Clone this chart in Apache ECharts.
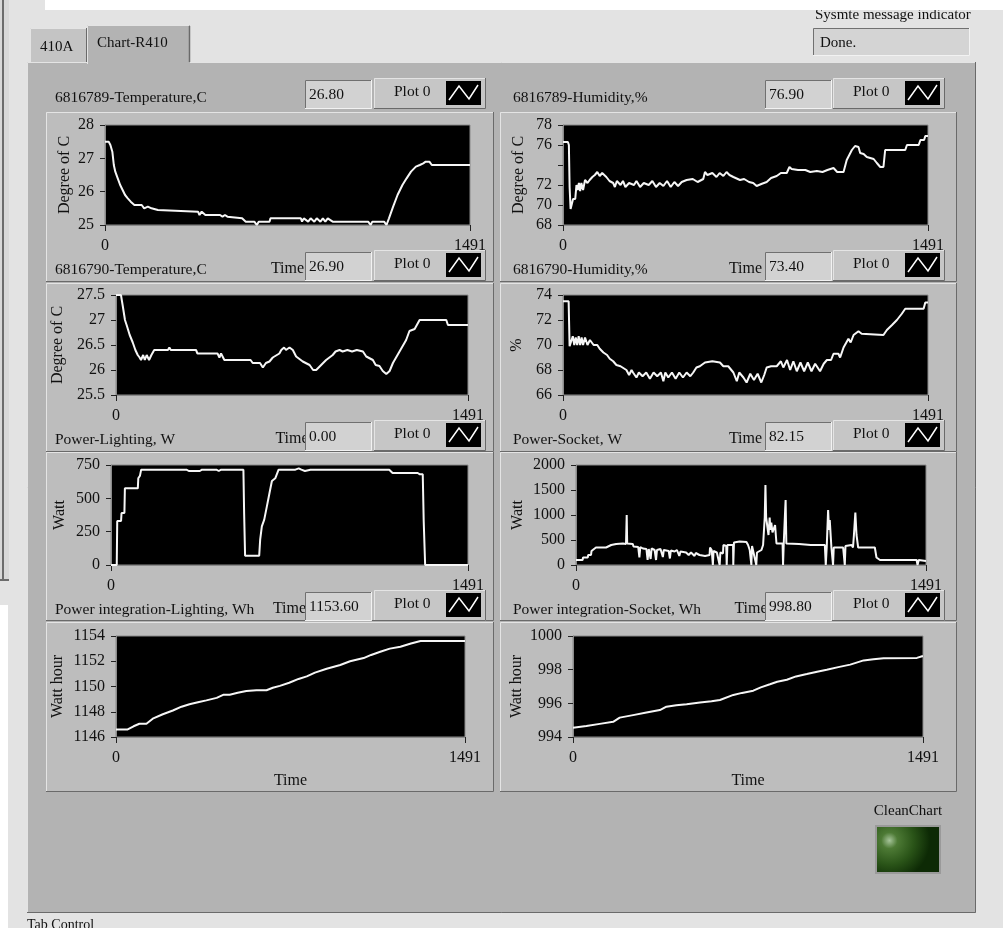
<!DOCTYPE html>
<html><head><meta charset="utf-8">
<script src="https://cdn.jsdelivr.net/npm/echarts@6/dist/echarts.min.js"></script>
<style>html,body{margin:0;padding:0;background:#e3e3e3;overflow:hidden}#c{width:1003px;height:928px}</style>
</head><body><div id="c"></div>
<script>
// ---------------- data ----------------
const xTicks = [0, 1491];
const temp1 = [[0,27.5],[15,27.5],[22,27.4],[30,27.2],[36,26.8],[42,26.6],[52,26.4],[62,26.2],[72,26.05],[82,25.9],[93,25.8],[105,25.7],[120,25.6],[150,25.6],[160,25.5],[175,25.55],[190,25.5],[216,25.45],[220,25.4],[380,25.4],[386,25.3],[395,25.4],[410,25.3],[470,25.3],[480,25.25],[490,25.3],[500,25.25],[560,25.2],[575,25.1],[610,25.1],[620,25.0],[628,25.1],[672,25.1],[676,25.2],[800,25.2],[805,25.1],[812,25.2],[830,25.1],[840,25.2],[855,25.1],[865,25.2],[880,25.1],[890,25.2],[900,25.1],[910,25.2],[930,25.1],[1075,25.1],[1085,25.0],[1092,25.1],[1140,25.1],[1150,25.0],[1160,25.2],[1177,25.55],[1195,25.9],[1215,26.2],[1232,26.4],[1250,26.6],[1270,26.75],[1286,26.8],[1300,26.85],[1310,26.9],[1325,26.9],[1335,26.8],[1491,26.8]];
const temp2 = [[0,27.5],[21,27.5],[28,27.3],[38,27.0],[45,26.9],[58,26.7],[71,26.55],[82,26.4],[92,26.3],[100,26.25],[106,26.2],[115,26.3],[122,26.2],[130,26.3],[140,26.2],[150,26.3],[155,26.3],[162,26.4],[220,26.4],[226,26.45],[232,26.4],[339,26.4],[345,26.33],[430,26.33],[438,26.25],[445,26.33],[459,26.2],[570,26.2],[579,26.14],[610,26.14],[622,26.05],[635,26.14],[650,26.17],[664,26.25],[692,26.33],[700,26.4],[712,26.45],[720,26.4],[735,26.45],[749,26.4],[763,26.27],[791,26.17],[820,26.1],[835,26.0],[848,26.0],[869,26.1],[890,26.2],[918,26.3],[930,26.37],[947,26.4],[960,26.37],[980,26.4],[1000,26.37],[1020,26.4],[1046,26.37],[1060,26.27],[1088,26.2],[1100,26.1],[1116,26.08],[1130,25.98],[1145,25.92],[1159,25.98],[1173,26.14],[1201,26.37],[1229,26.6],[1243,26.78],[1265,26.82],[1286,27.0],[1399,27.0],[1406,26.9],[1491,26.9]];
const lightW = [[0,0],[24,0],[26,330],[42,330],[44,390],[56,390],[58,575],[112,575],[114,650],[119,650],[121,670],[126,715],[315,715],[325,705],[371,705],[380,715],[440,715],[450,705],[460,715],[553,715],[556,390],[560,70],[619,70],[623,190],[630,290],[640,340],[651,440],[662,540],[672,630],[686,650],[700,715],[770,715],[784,725],[795,715],[810,705],[833,715],[1162,715],[1176,690],[1281,690],[1290,680],[1302,680],[1306,330],[1312,0],[1491,0]];
const lightWh = [[0,1146.6],[50,1146.6],[75,1146.85],[100,1147.05],[130,1147.05],[157,1147.45],[200,1147.8],[243,1148.1],[280,1148.4],[314,1148.6],[350,1148.75],[386,1148.9],[430,1149.1],[460,1149.35],[486,1149.35],[520,1149.5],[557,1149.65],[600,1149.7],[643,1149.7],[670,1149.9],[700,1150.05],[740,1150.3],[780,1150.6],[815,1150.8],[850,1151.1],[900,1151.4],[958,1151.7],[1000,1152.0],[1058,1152.25],[1090,1152.5],[1129,1152.75],[1170,1153.0],[1215,1153.15],[1260,1153.4],[1301,1153.6],[1491,1153.6]];
const hum1 = [[0,76.3],[20,76.3],[24,76.0],[27,71.8],[31,69.6],[38,69.8],[41,70.6],[50,70.6],[55,72.0],[60,71.5],[65,72.2],[70,71.4],[75,72.2],[82,71.5],[90,72.5],[100,72.2],[109,72.5],[120,72.8],[130,73.0],[140,73.3],[150,72.9],[160,73.2],[177,72.8],[190,72.4],[205,72.2],[212,71.8],[220,72.4],[235,72.0],[245,72.4],[255,71.8],[270,72.2],[290,72.0],[300,72.4],[315,71.8],[330,72.2],[350,72.0],[365,72.4],[380,71.8],[395,72.2],[410,71.9],[425,72.4],[440,71.8],[455,72.3],[470,71.9],[485,72.3],[505,72.5],[530,72.6],[550,72.3],[573,72.6],[580,73.3],[590,73.0],[610,73.2],[627,72.8],[640,73.2],[655,72.9],[668,73.3],[680,73.0],[696,72.8],[723,72.5],[740,72.6],[760,72.3],[777,72.2],[791,71.9],[810,72.1],[832,72.3],[850,72.7],[873,72.9],[890,73.2],[914,73.2],[925,73.8],[934,73.6],[960,73.5],[990,73.5],[1010,73.3],[1037,73.4],[1060,73.3],[1080,73.5],[1105,73.7],[1120,73.3],[1146,73.3],[1159,74.5],[1180,75.5],[1193,75.9],[1207,75.8],[1214,75.2],[1228,75.1],[1241,74.8],[1269,74.6],[1282,74.2],[1296,73.8],[1309,73.8],[1316,75.5],[1398,75.5],[1405,76.0],[1453,76.0],[1460,76.5],[1475,76.5],[1480,76.9],[1491,76.9]];
const hum2 = [[0,73.5],[23,73.5],[27,69.9],[34,70.0],[40,70.7],[46,70.0],[52,70.6],[58,70.0],[64,70.7],[70,70.0],[76,70.6],[82,70.0],[90,70.6],[100,70.0],[110,70.4],[125,70.0],[140,70.0],[150,69.7],[165,69.4],[180,69.2],[191,68.9],[205,68.7],[218,68.4],[235,68.3],[259,68.0],[270,67.6],[280,68.0],[286,67.8],[300,67.4],[310,67.8],[325,67.5],[340,67.8],[355,67.3],[370,67.8],[385,67.5],[400,67.8],[410,67.1],[418,67.8],[430,67.4],[445,67.8],[460,67.3],[475,67.8],[490,67.4],[505,67.8],[520,67.5],[532,67.8],[545,68.2],[559,68.3],[580,68.6],[610,68.7],[641,68.6],[655,68.3],[675,68.3],[696,67.8],[710,67.1],[720,67.8],[737,67.4],[750,67.0],[765,67.7],[780,67.2],[795,67.7],[810,67.0],[822,67.6],[832,68.2],[850,68.3],[873,68.3],[890,68.7],[900,68.2],[915,68.8],[928,68.0],[941,68.7],[955,67.9],[970,68.6],[985,67.9],[1000,68.6],[1015,67.9],[1030,68.5],[1050,67.9],[1065,68.5],[1078,68.8],[1095,68.8],[1105,69.3],[1125,69.3],[1132,69.0],[1146,69.8],[1166,70.5],[1175,70.2],[1187,70.8],[1207,71.1],[1220,70.9],[1228,70.8],[1309,70.8],[1323,71.2],[1344,71.6],[1364,72.0],[1384,72.5],[1398,72.9],[1473,72.9],[1480,73.4],[1491,73.4]];
const sockW = [[0,100],[28,100],[30,150],[50,150],[52,200],[64,200],[66,280],[71,300],[85,350],[128,350],[130,380],[150,400],[171,420],[200,430],[213,420],[216,1000],[218,430],[242,420],[245,370],[265,360],[270,150],[274,360],[285,330],[300,320],[305,100],[310,320],[318,120],[322,330],[335,300],[341,100],[345,300],[360,320],[370,160],[374,300],[395,280],[400,130],[404,290],[420,270],[430,300],[440,180],[445,270],[469,250],[480,200],[490,250],[505,180],[510,240],[526,200],[550,180],[569,200],[571,350],[578,300],[583,0],[586,280],[600,250],[612,0],[615,250],[626,230],[628,400],[640,380],[642,0],[645,400],[669,400],[670,0],[673,450],[697,470],[726,460],[733,400],[740,300],[747,0],[750,380],[768,0],[771,250],[790,300],[797,400],[804,950],[807,1600],[810,950],[820,600],[825,950],[828,700],[832,850],[837,650],[848,800],[854,430],[880,430],[882,0],[885,430],[891,1100],[893,1300],[896,430],[950,420],[1000,400],[1024,400],[1060,400],[1064,0],[1068,350],[1074,1100],[1078,700],[1081,900],[1088,350],[1095,0],[1098,350],[1138,350],[1145,0],[1148,380],[1174,400],[1180,350],[1184,600],[1190,1050],[1195,600],[1202,350],[1273,350],[1280,150],[1295,100],[1451,100],[1455,0],[1460,100],[1491,82]];
const sockWh = [[0,994.55],[57,994.65],[114,994.78],[171,994.9],[199,995.15],[256,995.3],[313,995.45],[370,995.6],[398,995.8],[440,995.88],[484,995.95],[541,996.05],[590,996.12],[626,996.2],[683,996.5],[720,996.62],[768,996.75],[800,996.95],[839,997.13],[870,997.28],[911,997.4],[950,997.6],[996,997.74],[1040,997.88],[1081,998.0],[1130,998.15],[1181,998.3],[1238,998.55],[1280,998.62],[1323,998.68],[1465,998.7],[1487,998.8],[1491,998.8]];
const titles = ['6816789-Temperature,C','6816790-Temperature,C','Power-Lighting, W','Power integration-Lighting, Wh','6816789-Humidity,%','6816790-Humidity,%','Power-Socket, W','Power integration-Socket, Wh'];
const readouts = ['26.80','26.90','0.00','1153.60','76.90','73.40','82.15','998.80'];
const yNames = ['Degree of C','Degree of C','Watt','Watt hour','Degree of C','%','Watt','Watt hour'];
const yRanges = [[25,28,1],[25.5,27.5,0.5],[0,750,250],[1146,1154,2],[68,78,2],[66,74,2],[0,2000,500],[994,1000,2]];
const hiddenTicks = [[],[],[],[],[74],[],[],[]];
const seriesData = [temp1,temp2,lightW,lightWh,hum1,hum2,sockW,sockWh];
const xName = 'Time';
const plotName = 'Plot 0';

// ---------------- layout ----------------
const FONT = '"Liberation Serif", "Times New Roman", serif';
const font = (s) => s + 'px ' + FONT;
const grids = [[105,125,365,100],[116,295,352,100],[111,465,357,100],[116,636,349,101],
               [563,125,365,100],[563,295,365,100],[576,465,350,100],[573,636,350,101]];
const nameGaps = [32,50,43,50,36,38,50,48];
const headerY = [78,250,420,590];
const frameY = [[112,170],[283,169],[452,169],[622,170]];

const chart = echarts.init(document.getElementById('c'), null, {renderer:'canvas', width:1003, height:928});

function bevel(x,y,w,h,fill,raised,z){
  const lt = raised ? '#e4e4e4' : '#707070';
  const rb = raised ? '#6a6a6a' : '#f2f2f2';
  return [
    {type:'rect', shape:{x:x,y:y,width:w,height:h}, style:{fill:fill}, z:z, silent:true},
    {type:'polyline', shape:{points:[[x+0.5,y+h],[x+0.5,y+0.5],[x+w,y+0.5]]}, style:{stroke:lt,lineWidth:1,fill:null}, z:z, silent:true},
    {type:'polyline', shape:{points:[[x+w-0.5,y],[x+w-0.5,y+h-0.5],[x,y+h-0.5]]}, style:{stroke:rb,lineWidth:1,fill:null}, z:z, silent:true}
  ];
}
function txt(t,x,y,size,z,align){
  return {type:'text', x:0, y:0, z:z, silent:true,
    style:{text:t, x:x, y:y, font:font(size), fill:'#111', textAlign:align||'left', verticalAlign:'middle', textVerticalAlign:'middle'}};
}

const g = [];
// left decoration & strips
g.push({type:'rect', shape:{x:0,y:0,width:9,height:580}, style:{fill:'#d8d8d8'}, z:-20, silent:true});
g.push({type:'line', shape:{x1:3,y1:0,x2:3,y2:580}, style:{stroke:'#6c6c6c',lineWidth:2}, z:-20, silent:true});
g.push({type:'line', shape:{x1:0,y1:580,x2:9,y2:580}, style:{stroke:'#6c6c6c',lineWidth:2}, z:-20, silent:true});
g.push({type:'rect', shape:{x:0,y:605,width:8,height:323}, style:{fill:'#ffffff'}, z:-20, silent:true});
// system message indicator
g.push(txt('Sysmte message indicator', 815, 15, 15, -20));
g.push({type:'rect', shape:{x:45,y:0,width:958,height:10}, style:{fill:'#ffffff'}, z:-19, silent:true});
g.push(...bevel(813,28,157,28,'#d4d4d4',false,-20));
g.push(txt('Done.', 820, 43, 15, -19));
// tab panel and tabs
g.push(...bevel(30,28,57,36,'#c4c4c4',true,-20));
g.push(txt('410A', 40, 47, 15, -19));
g.push(...bevel(27,62,949,851,'#b3b3b3',true,-18));
g.push({type:'rect', shape:{x:87,y:25,width:103,height:40}, style:{fill:'#b3b3b3'}, z:-17, silent:true});
g.push({type:'polyline', shape:{points:[[87.5,64],[87.5,25.5],[189,25.5]]}, style:{stroke:'#e4e4e4',lineWidth:1,fill:null}, z:-17, silent:true});
g.push({type:'polyline', shape:{points:[[189.5,26],[189.5,62]]}, style:{stroke:'#6a6a6a',lineWidth:1.5,fill:null}, z:-17, silent:true});
g.push(txt('Chart-R410', 97, 43, 15, -16));
g.push(txt('Tab Control', 27, 925, 14, -16));
// chart frames
[46,500].forEach(function(fx, col){
  frameY.forEach(function(fy){
    g.push(...bevel(fx, fy[0], col===0 ? 448 : 457, fy[1], '#bdbdbd', true, -15));
  });
});
// headers
for (let i = 0; i < 8; i++) {
  const col = i < 4 ? 0 : 1, row = i % 4;
  const hy = headerY[row];
  const lx = col === 0 ? 55 : 513;
  const vx = col === 0 ? 305 : 765;
  const px = col === 0 ? 374 : 833;
  g.push(txt(titles[i], lx, hy + 20, 15.5, 50));
  g.push(...bevel(vx, hy + 2, 67, 29, '#d2d2d2', false, 50));
  g.push(txt(readouts[i], vx + 4, hy + 17, 15.5, 51));
  g.push(...bevel(px, hy, 112, 31, '#c6c6c6', true, 50));
  g.push(txt(plotName, px + 20, hy + 14, 15.5, 51));
  const ix = px + 72, iy = hy + 3;
  g.push({type:'rect', shape:{x:ix,y:iy,width:35,height:24}, style:{fill:'#000'}, z:51, silent:true});
  g.push({type:'polyline', shape:{points:[[ix+3,iy+19],[ix+13,iy+5],[ix+23,iy+18],[ix+32,iy+4]]}, style:{stroke:'#fff',lineWidth:1.5,fill:null}, z:52, silent:true});
}
// CleanChart LED
g.push(txt('CleanChart', 908, 811, 15, 50, 'center'));
g.push({type:'rect', shape:{x:875,y:825,width:66,height:49}, style:{fill:'#9a9a9a'}, z:50, silent:true});
g.push({type:'rect', shape:{x:877,y:827,width:62,height:45},
  style:{fill:new echarts.graphic.RadialGradient(0.2,0.3,0.9,[{offset:0,color:'#a6c49a'},{offset:0.2,color:'#4d7a35'},{offset:0.6,color:'#2a5418'},{offset:1,color:'#0d2a05'}])}, z:51, silent:true});

const axisText = {fontFamily: FONT, fontSize: 16, color: '#111'};
const gridOpts = [], xAxes = [], yAxes = [], series = [];
for (let i = 0; i < 8; i++) {
  const r = grids[i], yr = yRanges[i], hid = hiddenTicks[i];
  gridOpts.push({left:r[0], top:r[1], width:r[2], height:r[3], show:true, backgroundColor:'#000', borderColor:'#8a8a8a', borderWidth:1, containLabel:false, outerBoundsMode:'none'});
  xAxes.push({type:'value', gridIndex:i, min:xTicks[0], max:xTicks[1], interval:xTicks[1]-xTicks[0],
    splitLine:{show:false}, axisLine:{show:true, lineStyle:{color:'#8a8a8a'}},
    axisTick:{show:true, length:6, lineStyle:{color:'#222'}},
    axisLabel:Object.assign({margin:13, showMinLabel:true, showMaxLabel:true, hideOverlap:false,
      formatter:function(v){ return String(v); }}, axisText),
    name:xName, nameLocation:'middle', nameGap:36, nameTextStyle:axisText});
  yAxes.push({type:'value', gridIndex:i, min:yr[0], max:yr[1], interval:yr[2],
    splitLine:{show:false}, axisLine:{show:true, lineStyle:{color:'#8a8a8a'}},
    axisTick:{show:true, length:5, lineStyle:{color:'#222'}},
    axisLabel:Object.assign({margin:11, showMinLabel:true, showMaxLabel:true,
      formatter:function(v){ return hid.indexOf(v) >= 0 ? '' : String(v); }}, axisText),
    name:yNames[i], nameLocation:'middle', nameGap:nameGaps[i], nameRotate:90, nameTextStyle:axisText});
  series.push({type:'line', xAxisIndex:i, yAxisIndex:i, data:seriesData[i], showSymbol:false, symbol:'none',
    lineStyle:{color:'#f6f6f6', width:2}, silent:true, animation:false});
}

chart.setOption({
  backgroundColor:'#e3e3e3',
  animation:false,
  grid:gridOpts, xAxis:xAxes, yAxis:yAxes, series:series,
  graphic:{elements:g}
});
</script>
</body></html>
